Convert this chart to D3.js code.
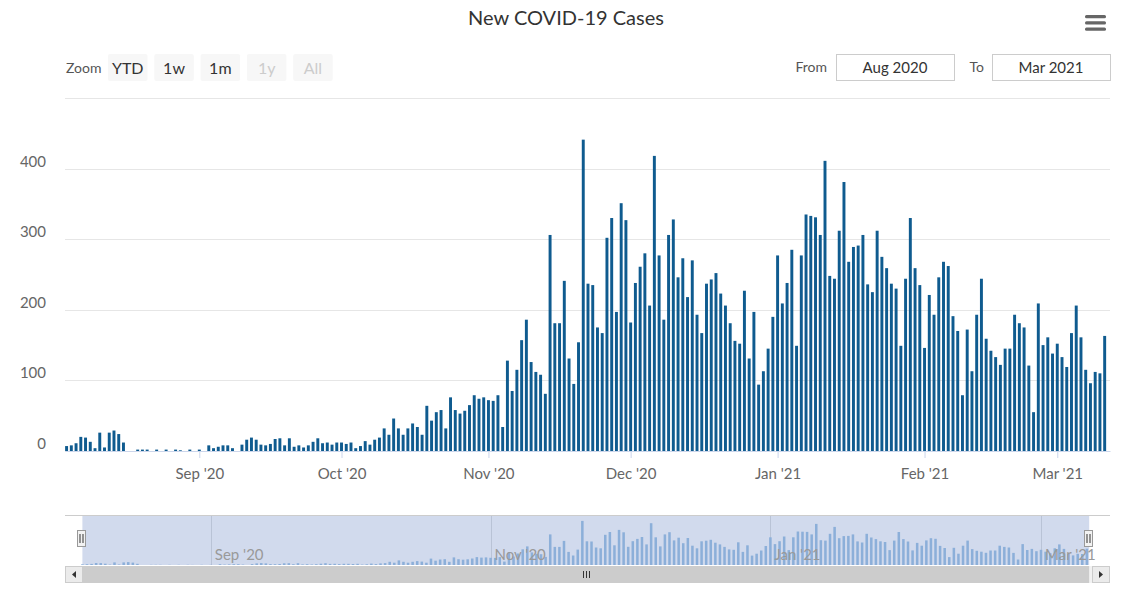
<!DOCTYPE html>
<html>
<head>
<meta charset="utf-8">
<script src="https://cdn.jsdelivr.net/npm/d3@7"></script>
<style>
  body { margin: 0; background: #fff; }
  svg { display: block; font-family: Lato, "Open Sans", sans-serif; }
</style>
</head>
<body>
<div id="chart"></div>
<script>
// daily new cases, one list per month (first bar is 4 Aug 2020)
const startDay = Date.UTC(2020, 7, 4);
const augCases = [7, 8, 11, 20, 19, 13, 4, 26, 5, 26, 29, 24, 12, 0, 0, 2, 2, 2, 0, 2, 0, 2, 0, 2, 1, 0, 2, 0];
const sepCases = [2, 0, 8, 4, 6, 8, 8, 4, 0, 9, 16, 19, 16, 9, 8, 10, 17, 18, 8, 18, 6, 8, 5, 8, 13, 18, 11, 12, 9, 12];
const octCases = [12, 10, 12, 4, 7, 14, 9, 16, 19, 32, 23, 46, 32, 23, 32, 39, 34, 23, 64, 43, 55, 58, 32, 76, 58, 53, 57, 65, 79, 74, 76];
const novCases = [72, 71, 79, 34, 128, 85, 115, 157, 186, 126, 112, 108, 81, 306, 181, 181, 241, 131, 95, 154, 441, 237, 235, 175, 167, 302, 330, 197, 351, 327];
const decCases = [182, 238, 261, 280, 206, 418, 277, 186, 306, 328, 246, 273, 218, 270, 193, 167, 237, 243, 252, 223, 206, 181, 156, 152, 227, 131, 197, 94, 113, 145, 190];
const janCases = [277, 209, 238, 285, 149, 277, 335, 333, 331, 306, 411, 248, 244, 312, 381, 268, 289, 291, 306, 236, 225, 312, 275, 259, 237, 230, 149, 244, 330, 259, 235];
const febCases = [146, 221, 193, 246, 268, 262, 191, 170, 79, 172, 113, 193, 244, 159, 142, 133, 122, 145, 145, 193, 181, 175, 121, 55, 209, 150, 161, 138];
const marCases = [152, 133, 119, 167, 206, 161, 115, 96, 112, 110, 163];

const yTicks = [0, 100, 200, 300, 400, 500];
const rangeButtons = ['YTD', '1w', '1m', '1y', 'All'];
const buttonDisabled = [false, false, false, true, true];
const fromLabel = 'Aug 2020';
const toLabel = 'Mar 2021';

const cases = [].concat(augCases, sepCases, octCases, novCases, decCases, janCases, febCases, marCases);
const days = cases.map((v, i) => ({ date: d3.utcDay.offset(new Date(startDay), i), value: v }));
const first = days[0].date, last = days[days.length - 1].date;

const W = 1134, H = 610;
const plotL = 65, plotR = 1110, plotT = 98, plotB = 451;
const navTop = 515, navBottom = 565;

const svg = d3.select('#chart').append('svg')
    .attr('width', W).attr('height', H);

// title + menu
svg.append('text')
    .attr('x', 566).attr('y', 25)
    .attr('text-anchor', 'middle')
    .style('font-size', '20px').style('fill', '#333')
    .text('New COVID-19 Cases');

svg.append('g').selectAll('rect').data([0, 1, 2]).join('rect')
    .attr('x', 1085).attr('y', d => 15 + d * 6.3)
    .attr('width', 21).attr('height', 3.2).attr('rx', 1.5)
    .style('fill', '#666');

// range selector
svg.append('text')
    .attr('x', 66).attr('y', 73)
    .style('font-size', '14px').style('fill', '#555')
    .text('Zoom');

const btn = svg.append('g').selectAll('g').data(rangeButtons).join('g')
    .attr('transform', (d, i) => `translate(${108 + i * 46.3},54)`);
btn.append('rect')
    .attr('width', 39.5).attr('height', 27).attr('rx', 2)
    .style('fill', '#f7f7f7');
btn.append('text')
    .attr('x', 19.75).attr('y', 19.5)
    .attr('text-anchor', 'middle')
    .style('font-size', '16px')
    .style('fill', (d, i) => buttonDisabled[i] ? '#cccccc' : '#333')
    .text(d => d);

// date inputs
const inputs = [
    { label: 'From', lx: 827, bx: 836, text: fromLabel },
    { label: 'To', lx: 984, bx: 992, text: toLabel }
];
const inp = svg.append('g').selectAll('g').data(inputs).join('g');
inp.append('text')
    .attr('x', d => d.lx).attr('y', 72)
    .attr('text-anchor', 'end')
    .style('font-size', '14px').style('fill', '#555')
    .text(d => d.label);
inp.append('rect')
    .attr('x', d => d.bx + 0.5).attr('y', 54.5)
    .attr('width', 118).attr('height', 26)
    .style('fill', '#fff').style('stroke', '#cccccc');
inp.append('text')
    .attr('x', d => d.bx + 59).attr('y', 72.5)
    .attr('text-anchor', 'middle')
    .style('font-size', '15px').style('fill', '#333')
    .text(d => d.text);

// scales
const x = d3.scaleUtc()
    .domain([d3.utcHour.offset(first, -8), d3.utcHour.offset(last, 27)])
    .range([plotL, plotR]);
const y = d3.scaleLinear().domain([0, 500]).range([plotB, plotT]);

// grid + y labels
const grid = svg.append('g');
grid.selectAll('line').data(yTicks).join('line')
    .attr('x1', plotL).attr('x2', plotR)
    .attr('y1', d => Math.round(y(d)) + 0.5).attr('y2', d => Math.round(y(d)) + 0.5)
    .style('stroke', '#e6e6e6');
grid.selectAll('text').data(yTicks.slice(0, -1)).join('text')
    .attr('x', 46).attr('y', d => y(d) - 2)
    .attr('text-anchor', 'end')
    .style('font-size', '15px').style('fill', '#666')
    .text(d => d);

// x axis
const xAxis = svg.append('g')
    .attr('transform', `translate(0,${plotB})`)
    .call(d3.axisBottom(x).ticks(d3.utcMonth.every(1)).tickFormat(d3.utcFormat("%b '%y")).tickSize(7).tickSizeOuter(0));
xAxis.select('.domain').style('stroke', '#ccd6eb');
xAxis.selectAll('.tick line').style('stroke', '#ccd6eb');
xAxis.selectAll('.tick text')
    .attr('dy', 0).attr('y', 28)
    .style('font-size', '15px').style('fill', '#666')
    .style('font-family', 'Lato, sans-serif');

// columns
const step = x(d3.utcDay.offset(first, 1)) - x(first);
const barW = step * 0.62;
svg.append('g').selectAll('rect').data(days).join('rect')
    .attr('x', d => x(d.date) - barW / 2)
    .attr('y', d => y(d.value))
    .attr('width', barW)
    .attr('height', d => y(0) - y(d.value))
    .style('fill', '#0f5b8f');

// navigator
const nx = d3.scaleUtc()
    .domain([d3.utcHour.offset(first, -91), d3.utcHour.offset(last, 121)])
    .range([plotL, plotR]);
const ny = d3.scaleLinear().domain([0, 480]).range([navBottom, navTop + 2]);
const selL = nx(first), selR = nx(d3.utcHour.offset(last, 12));

const nav = svg.append('g');
nav.append('rect')
    .attr('x', selL).attr('y', navTop)
    .attr('width', selR - selL).attr('height', navBottom - navTop)
    .style('fill', 'rgba(102,133,194,0.3)');

const navTicks = nx.ticks(d3.utcMonth.every(2));
nav.selectAll('line.ngrid').data(navTicks).join('line')
    .attr('class', 'ngrid')
    .attr('x1', d => Math.round(nx(d)) + 0.5).attr('x2', d => Math.round(nx(d)) + 0.5)
    .attr('y1', navTop).attr('y2', navBottom)
    .style('stroke', '#b9c3d6');

const nbw = (nx(d3.utcDay.offset(first, 1)) - nx(first)) * 0.55;
nav.selectAll('rect.nbar').data(days).join('rect')
    .attr('class', 'nbar')
    .attr('x', d => nx(d.date) - nbw / 2)
    .attr('y', d => ny(d.value))
    .attr('width', nbw)
    .attr('height', d => ny(0) - ny(d.value))
    .style('fill', '#8cafd9');

nav.selectAll('text').data(navTicks).join('text')
    .attr('x', d => nx(d) + 4).attr('y', 560)
    .style('font-size', '15px').style('fill', '#999')
    .text(d3.utcFormat("%b '%y"));

nav.append('line')
    .attr('x1', plotL).attr('x2', plotR)
    .attr('y1', navTop + 0.5).attr('y2', navTop + 0.5)
    .style('stroke', '#cccccc');

// handles
const handle = nav.selectAll('g.handle').data([selL, selR]).join('g')
    .attr('class', 'handle')
    .attr('transform', d => `translate(${Math.round(d)},530)`);
handle.append('rect')
    .attr('x', -4.5).attr('y', 0.5).attr('width', 8).attr('height', 16)
    .style('fill', '#f2f2f2').style('stroke', '#999');
handle.selectAll('line').data([-1.5, 1.5]).join('line')
    .attr('x1', d => d - 0.5).attr('x2', d => d - 0.5)
    .attr('y1', 4).attr('y2', 13)
    .style('stroke', '#333');

// scrollbar
const sb = svg.append('g').attr('transform', 'translate(0,566)');
sb.append('rect')
    .attr('x', plotL).attr('y', 0).attr('width', plotR - plotL).attr('height', 17)
    .style('fill', '#f2f2f2');
sb.append('rect')
    .attr('x', selL).attr('y', 0).attr('width', selR - selL).attr('height', 17)
    .style('fill', '#cccccc');
sb.selectAll('rect.btn').data([plotL, plotR - 18]).join('rect')
    .attr('class', 'btn')
    .attr('x', d => d + 0.5).attr('y', 0.5).attr('width', 17).attr('height', 16)
    .style('fill', '#ebebeb').style('stroke', '#cccccc');
sb.append('path')
    .attr('d', `M${plotL + 11},5 L${plotL + 11},12 L${plotL + 7},8.5 Z`)
    .style('fill', '#333');
sb.append('path')
    .attr('d', `M${plotR - 11},5 L${plotR - 11},12 L${plotR - 7},8.5 Z`)
    .style('fill', '#333');
const gx = (selL + selR) / 2;
sb.selectAll('line.grip').data([-3, 0, 3]).join('line')
    .attr('class', 'grip')
    .attr('x1', d => Math.round(gx + d) + 0.5).attr('x2', d => Math.round(gx + d) + 0.5)
    .attr('y1', 5).attr('y2', 12)
    .style('stroke', '#333');
</script>
</body>
</html>
